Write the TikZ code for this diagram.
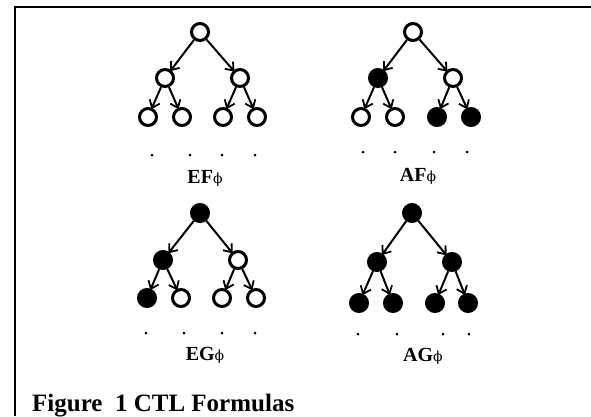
\documentclass[tikz,border=0pt]{standalone}
\usepackage{fontspec}
\setmainfont{Liberation Serif}
\newfontfamily\phifont{DejaVu Serif}
\usetikzlibrary{arrows.meta}
\tikzset{
  px/.style={x=1pt,y=-1pt},
  st/.style={circle,draw,line width=3pt,minimum size=17pt,inner sep=0pt},
  wst/.style={st,fill=white},
  bst/.style={st,fill=black},
  edge/.style={line width=2pt,-{Straight Barb[length=7pt,width=11pt,line width=1.8pt]},shorten >=-1.5pt},
  pathdot/.style={circle,fill=black,inner sep=0pt,minimum size=3pt},
  formula/.style={font=\fontsize{20}{22}\selectfont\bfseries,inner sep=0pt},
  frame/.style={line width=2pt}
}
\newcommand{\phisym}{{\phifont\fontsize{14}{16}\selectfont\mdseries ϕ}}
\begin{document}
\begin{tikzpicture}[px]
\useasboundingbox (0,0) rectangle (591,416);
\draw[frame] (15,416) -- (15,7) -- (591,7);

% EF phi
\node[wst] (a0) at (200,32) {};
\node[wst] (a1) at (165,78) {};
\node[wst] (a2) at (240,78) {};
\node[wst] (a3) at (148,117) {};
\node[wst] (a4) at (182,117) {};
\node[wst] (a5) at (223,117) {};
\node[wst] (a6) at (257,117) {};
\draw[edge] (a0) -- (a1); \draw[edge] (a0) -- (a2);
\draw[edge] (a1) -- (a3); \draw[edge] (a1) -- (a4);
\draw[edge] (a2) -- (a5); \draw[edge] (a2) -- (a6);
\node[pathdot] (ad1) at (152,155) {};
\node[pathdot] (ad2) at (190,155) {};
\node[pathdot] (ad3) at (222,155) {};
\node[pathdot] (ad4) at (255,155) {};
\node[formula] (al) at (205,178) {EF\phisym};

% AF phi
\node[wst] (b0) at (413,32) {};
\node[bst] (b1) at (378,78) {};
\node[wst] (b2) at (453,78) {};
\node[wst] (b3) at (361,117) {};
\node[wst] (b4) at (395,117) {};
\node[bst] (b5) at (437,117) {};
\node[bst] (b6) at (471,117) {};
\draw[edge] (b0) -- (b1); \draw[edge] (b0) -- (b2);
\draw[edge] (b1) -- (b3); \draw[edge] (b1) -- (b4);
\draw[edge] (b2) -- (b5); \draw[edge] (b2) -- (b6);
\node[pathdot] (bd1) at (363,152) {};
\node[pathdot] (bd2) at (395,152) {};
\node[pathdot] (bd3) at (434,152) {};
\node[pathdot] (bd4) at (467,152) {};
\node[formula] (bl) at (418,176) {AF\phisym};

% EG phi
\node[bst] (c0) at (200,213) {};
\node[bst] (c1) at (163,260) {};
\node[wst] (c2) at (238,260) {};
\node[bst] (c3) at (147,298) {};
\node[wst] (c4) at (181,298) {};
\node[wst] (c5) at (222,298) {};
\node[wst] (c6) at (256,298) {};
\draw[edge] (c0) -- (c1); \draw[edge] (c0) -- (c2);
\draw[edge] (c1) -- (c3); \draw[edge] (c1) -- (c4);
\draw[edge] (c2) -- (c5); \draw[edge] (c2) -- (c6);
\node[pathdot] (cd1) at (146,333) {};
\node[pathdot] (cd2) at (184,333) {};
\node[pathdot] (cd3) at (222,333) {};
\node[pathdot] (cd4) at (255,333) {};
\node[formula] (cl) at (205,355) {EG\phisym};

% AG phi
\node[bst] (d0) at (412,213) {};
\node[bst] (d1) at (377,262) {};
\node[bst] (d2) at (452,262) {};
\node[bst] (d3) at (359,303) {};
\node[bst] (d4) at (393,303) {};
\node[bst] (d5) at (435,303) {};
\node[bst] (d6) at (468,303) {};
\draw[edge] (d0) -- (d1); \draw[edge] (d0) -- (d2);
\draw[edge] (d1) -- (d3); \draw[edge] (d1) -- (d4);
\draw[edge] (d2) -- (d5); \draw[edge] (d2) -- (d6);
\node[pathdot] (dd1) at (358,334) {};
\node[pathdot] (dd2) at (397,334) {};
\node[pathdot] (dd3) at (443,334) {};
\node[pathdot] (dd4) at (469,334) {};
\node[formula] (dl) at (423,356) {AG\phisym};

% caption
\node[anchor=base west,inner sep=0pt,font=\fontsize{25}{27}\selectfont\bfseries] (cap) at (32,411) {Figure\ \ 1 CTL Formulas};
\end{tikzpicture}
\end{document}
